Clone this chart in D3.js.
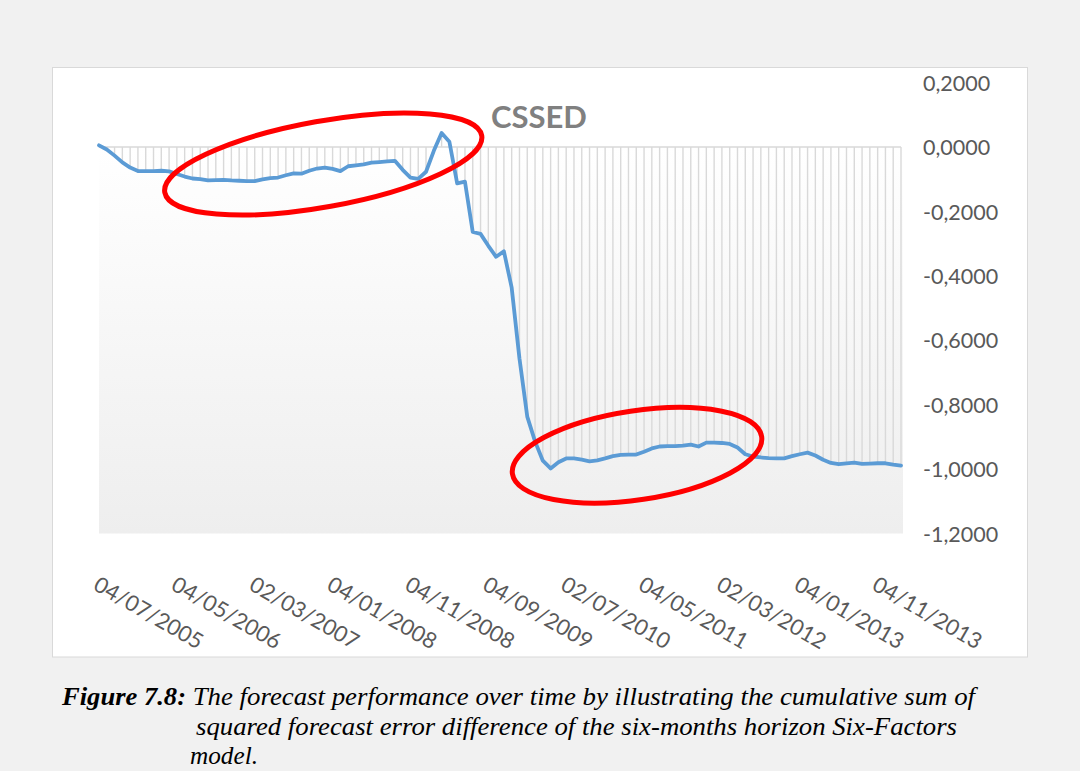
<!DOCTYPE html>
<html>
<head>
<meta charset="utf-8">
<script src="https://cdn.jsdelivr.net/npm/d3@7"></script>
<style>
  html, body { margin: 0; padding: 0; background: #f1f1f1; }
  svg { display: block; }
</style>
</head>
<body>
<script>
// ---- Data ----
const values = [
  0.005, -0.008, -0.027, -0.048, -0.064, -0.075, -0.075, -0.075, -0.074, -0.076,
  -0.084, -0.092, -0.098, -0.100, -0.104, -0.103, -0.102, -0.104, -0.105, -0.106,
  -0.106, -0.101, -0.097, -0.095, -0.088, -0.082, -0.083, -0.074, -0.067, -0.064,
  -0.068, -0.075, -0.060, -0.057, -0.054, -0.049, -0.047, -0.045, -0.043, -0.071,
  -0.095, -0.099, -0.077, -0.012, 0.043, 0.016, -0.113, -0.108, -0.264, -0.270,
  -0.307, -0.341, -0.324, -0.437, -0.657, -0.837, -0.914, -0.974, -0.998, -0.979,
  -0.967, -0.967, -0.971, -0.976, -0.973, -0.967, -0.960, -0.956, -0.955, -0.955,
  -0.946, -0.936, -0.930, -0.929, -0.929, -0.927, -0.924, -0.930, -0.918, -0.918,
  -0.919, -0.922, -0.933, -0.954, -0.961, -0.964, -0.966, -0.967, -0.967, -0.960,
  -0.954, -0.949, -0.958, -0.971, -0.981, -0.985, -0.982, -0.980, -0.984, -0.983,
  -0.982, -0.982, -0.986, -0.989
];
const tickLabels = ["04/07/2005","04/05/2006","02/03/2007","04/01/2008","04/11/2008",
  "04/09/2009","02/07/2010","04/05/2011","02/03/2012","04/01/2013","04/11/2013"];
const tickStep = 10;
const yTicks = [0.2, 0, -0.2, -0.4, -0.6, -0.8, -1.0, -1.2];
const title = "CSSED";
// annotation ellipses: centre in data space (index, value), radii px, rotation deg
const ellipses = [
  { i: 28.8, v: -0.053, rx: 161, ry: 43, rot: -10.2 },
  { i: 69.1, v: -0.957, rx: 126, ry: 44.5, rot: -8.5 }
];
const captionLines = [
  { bold: "Figure 7.8:", text: " The forecast performance over time by illustrating the cumulative sum of" },
  { bold: "", text: "squared forecast error difference of the six-months horizon Six-Factors" },
  { bold: "", text: "model." }
];

// ---- Drawing ----
const W = 1080, H = 771;
const svg = d3.select("body").append("svg").attr("width", W).attr("height", H);

svg.append("rect").attr("x", 0).attr("y", 0).attr("width", W).attr("height", H).attr("fill", "#f1f1f1");
svg.append("rect").attr("x", 52.5).attr("y", 67.5).attr("width", 975).attr("height", 589.5)
  .attr("fill", "#ffffff").attr("stroke", "#d9d9d9").attr("stroke-width", 1);

const x = d3.scaleLinear().domain([0, values.length - 1]).range([99, 901]);
const y = d3.scaleLinear().domain([-1.2, 0.2]).range([533.5, 82.5]);

const defs = svg.append("defs");
const grad = defs.append("linearGradient").attr("id", "pg").attr("x1", 0).attr("y1", 0).attr("x2", 0).attr("y2", 1);
grad.append("stop").attr("offset", "0%").attr("stop-color", "#ffffff");
grad.append("stop").attr("offset", "100%").attr("stop-color", "#eeeeee");

svg.append("rect")
  .attr("x", x(0)).attr("y", y(0))
  .attr("width", x(values.length - 1) - x(0) + 2)
  .attr("height", y(-1.2) - y(0))
  .attr("fill", "url(#pg)");

// zero line
svg.append("line").attr("x1", x(0)).attr("x2", x(values.length - 1)).attr("y1", y(0)).attr("y2", y(0))
  .attr("stroke", "#d9d9d9").attr("stroke-width", 1.5);

// drop lines
svg.append("g").selectAll("line").data(values).join("line")
  .attr("x1", (d, i) => x(i)).attr("x2", (d, i) => x(i))
  .attr("y1", y(0)).attr("y2", d => y(d))
  .attr("stroke", "#d9d9d9").attr("stroke-width", 1.4);

// data line
svg.append("path").datum(values)
  .attr("fill", "none").attr("stroke", "#5b9bd5").attr("stroke-width", 3.8)
  .attr("stroke-linejoin", "round").attr("stroke-linecap", "round")
  .attr("d", d3.line().x((d, i) => x(i)).y(d => y(d)));

// right y axis
const fmt = v => (v < -1e-9 ? "-" : "") + Math.abs(v).toFixed(4).replace(".", ",");
const yAxis = svg.append("g").attr("transform", "translate(923,0)")
  .call(d3.axisRight(y).tickValues(yTicks).tickSize(0).tickPadding(0).tickFormat(fmt));
yAxis.select(".domain").remove();
yAxis.selectAll("text").attr("font-family", "Lato, 'Open Sans', sans-serif").attr("font-size", 21.5)
  .attr("fill", "#595959").attr("dy", "0.36em");

// x labels
const tickIdx = tickLabels.map((d, k) => k * tickStep);
svg.append("g").selectAll("text").data(tickLabels).join("text")
  .attr("transform", (d, k) => `translate(${x(tickIdx[k]) - 7},589) rotate(30)`)
  .attr("font-family", "Lato, 'Open Sans', sans-serif").attr("font-size", 22)
  .attr("fill", "#595959").attr("text-anchor", "start")
  .text(d => d);

// title
svg.append("text").attr("x", 539).attr("y", 128).attr("text-anchor", "middle")
  .attr("font-family", "Lato, 'Open Sans', sans-serif").attr("font-weight", "bold").attr("font-size", 31)
  .attr("fill", "#808080").text(title);

// ellipses
svg.append("g").selectAll("ellipse").data(ellipses).join("ellipse")
  .attr("cx", 0).attr("cy", 0).attr("rx", d => d.rx).attr("ry", d => d.ry)
  .attr("transform", d => `translate(${x(d.i)},${y(d.v)}) rotate(${d.rot})`)
  .attr("fill", "none").attr("stroke", "#ff0000").attr("stroke-width", 5);

// caption
const capPos = [
  { x: 62, y: 705, len: 913, boldLen: 124 },
  { x: 196, y: 735, len: 761, boldLen: 0 },
  { x: 190, y: 764, len: 68, boldLen: 0 }
];
const capFont = "'Liberation Serif', 'Times New Roman', Times, serif";
captionLines.forEach((c, k) => {
  const p = capPos[k];
  if (c.bold) {
    svg.append("text").attr("x", p.x).attr("y", p.y)
      .attr("font-family", capFont).attr("font-style", "italic")
      .attr("font-weight", "bold").attr("font-size", 25).attr("fill", "#000")
      .attr("textLength", p.boldLen).attr("lengthAdjust", "spacingAndGlyphs").text(c.bold);
    svg.append("text").attr("x", p.x + p.boldLen).attr("y", p.y)
      .attr("font-family", capFont).attr("font-style", "italic")
      .attr("font-size", 25).attr("fill", "#000").attr("xml:space", "preserve")
      .attr("textLength", p.len - p.boldLen).attr("lengthAdjust", "spacingAndGlyphs").text(c.text);
  } else {
    svg.append("text").attr("x", p.x).attr("y", p.y)
      .attr("font-family", capFont).attr("font-style", "italic")
      .attr("font-size", 25).attr("fill", "#000")
      .attr("textLength", p.len).attr("lengthAdjust", "spacingAndGlyphs").text(c.text);
  }
});
</script>
</body>
</html>
